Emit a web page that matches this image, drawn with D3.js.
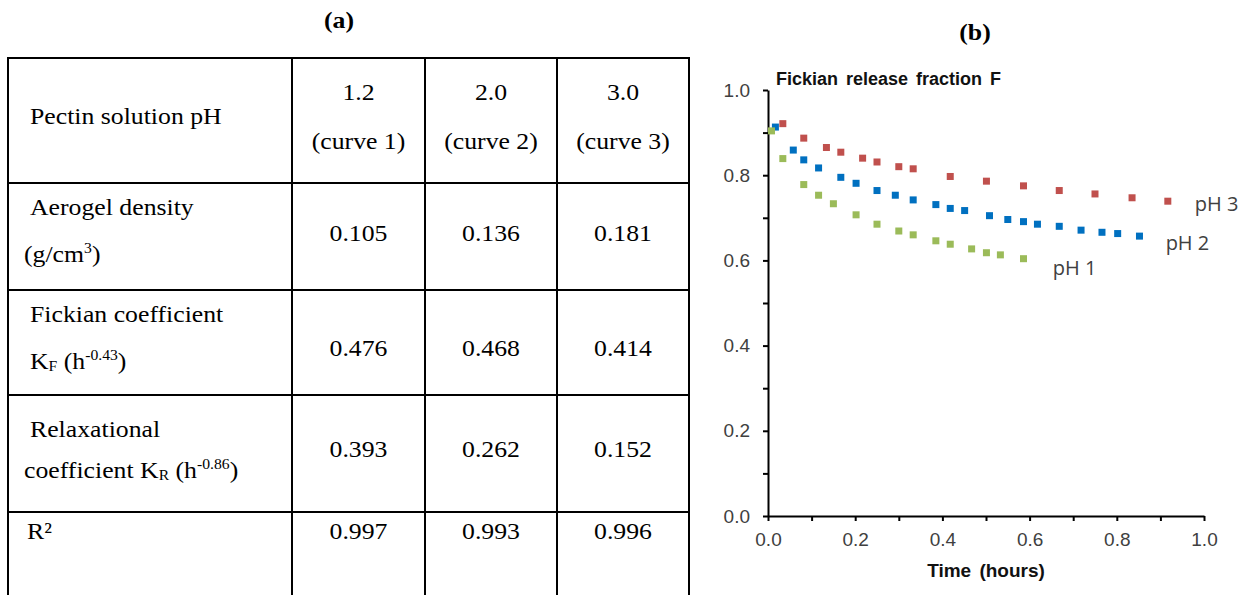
<!DOCTYPE html>
<html>
<head>
<meta charset="utf-8">
<style>
  body { margin: 0; background: #fff; }
  svg { display: block; }
</style>
</head>
<body>
<svg width="1246" height="595"></svg>
<script src="https://d3js.org/d3.v7.min.js"></script>
<script>

// ---- table (a) ----
var colHeads = [["1.2", "(curve 1)"], ["2.0", "(curve 2)"], ["3.0", "(curve 3)"]];
var aerogelDensity = ["0.105", "0.136", "0.181"];
var fickianK = ["0.476", "0.468", "0.414"];
var relaxK = ["0.393", "0.262", "0.152"];
var rSquared = ["0.997", "0.993", "0.996"];

// ---- plot (b) ----
var timePH1 = [0.008, 0.034, 0.082, 0.116, 0.150, 0.202, 0.250, 0.300, 0.333, 0.385, 0.418, 0.467, 0.501, 0.533, 0.586];
var fracPH1 = [0.904, 0.839, 0.778, 0.753, 0.733, 0.707, 0.685, 0.669, 0.660, 0.646, 0.638, 0.627, 0.618, 0.613, 0.604];

var timePH2 = [0.017, 0.058, 0.082, 0.116, 0.167, 0.202, 0.250, 0.292, 0.333, 0.385, 0.418, 0.451, 0.508, 0.550, 0.586, 0.618, 0.668, 0.718, 0.766, 0.802, 0.852];
var fracPH2 = [0.913, 0.859, 0.836, 0.817, 0.795, 0.781, 0.764, 0.753, 0.742, 0.731, 0.722, 0.717, 0.705, 0.696, 0.691, 0.685, 0.680, 0.671, 0.666, 0.663, 0.657];

var timePH3 = [0.034, 0.082, 0.134, 0.167, 0.217, 0.250, 0.300, 0.333, 0.418, 0.501, 0.586, 0.668, 0.750, 0.835, 0.917];
var fracPH3 = [0.921, 0.887, 0.865, 0.854, 0.840, 0.831, 0.820, 0.815, 0.797, 0.786, 0.775, 0.764, 0.756, 0.747, 0.739];

var seriesNames = ["pH 3", "pH 2", "pH 1"];
var seriesColors = ["#C0504D", "#0070C0", "#9BBB59"];
var labelPos = [[0.979, 0.717], [0.912, 0.624], [0.653, 0.566]];

var svg = d3.select("svg");

// ================= table =================
var colX = [8, 292, 425, 557, 689];
var rowY = [58, 183, 290, 395, 512, 640];
var serif = "'Liberation Serif', 'Times New Roman', serif";
var sx = 1.12;

var tg = svg.append("g").attr("font-family", serif).attr("font-size", 23).attr("fill", "#000");

svg.append("text")
    .attr("font-family", serif).attr("font-weight", "bold").attr("font-size", 23)
    .attr("text-anchor", "middle")
    .attr("transform", "translate(339,28) scale(" + sx + ",1)")
    .text("(a)");

// grid lines
var lines = svg.append("g").attr("stroke", "#000").attr("stroke-width", 2);
rowY.slice(0, 5).forEach(function(y) {
  lines.append("line").attr("x1", colX[0] - 1).attr("x2", colX[4] + 1).attr("y1", y).attr("y2", y);
});
colX.forEach(function(x) {
  lines.append("line").attr("x1", x).attr("x2", x).attr("y1", rowY[0]).attr("y2", 595);
});

function cellText(x, y, anchor) {
  return tg.append("text")
      .attr("text-anchor", anchor || "start")
      .attr("transform", "translate(" + x + "," + y + ") scale(" + sx + ",1)");
}

// row labels
cellText(30, 124).text("Pectin solution pH");
cellText(30, 215).text("Aerogel density");
var t = cellText(24, 262);
t.append("tspan").text("(g/cm");
t.append("tspan").attr("font-size", 14).attr("dy", -9).text("3");
t.append("tspan").attr("dy", 9).text(")");

cellText(30, 322).text("Fickian coefficient");
t = cellText(30, 369);
t.append("tspan").text("K");
t.append("tspan").attr("font-size", 14).attr("dy", 2).text("F");
t.append("tspan").attr("dy", -2).text(" (h");
t.append("tspan").attr("font-size", 14).attr("dy", -9).text("-0.43");
t.append("tspan").attr("dy", 9).text(")");

cellText(30, 437).text("Relaxational");
t = cellText(24, 478);
t.append("tspan").text("coefficient K");
t.append("tspan").attr("font-size", 14).attr("dy", 2).text("R");
t.append("tspan").attr("dy", -2).text(" (h");
t.append("tspan").attr("font-size", 14).attr("dy", -9).text("-0.86");
t.append("tspan").attr("dy", 9).text(")");

cellText(27, 539).text("R²");

// value columns
var colCenter = d3.range(3).map(function(i) { return (colX[i + 1] + colX[i + 2]) / 2; });
colHeads.forEach(function(h, i) {
  cellText(colCenter[i], 100, "middle").text(h[0]);
  cellText(colCenter[i], 149, "middle").text(h[1]);
});
[[aerogelDensity, 241], [fickianK, 356], [relaxK, 457], [rSquared, 539]].forEach(function(r) {
  r[0].forEach(function(v, i) { cellText(colCenter[i], r[1], "middle").text(v); });
});

// ================= chart =================
var x = d3.scaleLinear().domain([0, 1]).range([768, 1204]);
var y = d3.scaleLinear().domain([0, 1]).range([516, 90]);
var sans = "'Liberation Sans', Arial, sans-serif";
var tickVals = d3.range(0, 11).map(function(i) { return i / 10; });
var fmt = function(d, i) { return i % 2 === 0 ? d3.format(".1f")(d) : ""; };

svg.append("text")
    .attr("font-family", serif).attr("font-weight", "bold").attr("font-size", 23)
    .attr("text-anchor", "middle")
    .attr("transform", "translate(975,40) scale(" + sx + ",1)")
    .text("(b)");

var gx = svg.append("g")
    .attr("transform", "translate(0," + y(0) + ")")
    .call(d3.axisBottom(x).tickValues(tickVals).tickFormat(fmt).tickSize(5).tickSizeOuter(0).tickPadding(12));
var gy = svg.append("g")
    .attr("transform", "translate(" + x(0) + ",0)")
    .call(d3.axisLeft(y).tickValues(tickVals).tickFormat(fmt).tickSize(5).tickSizeOuter(0).tickPadding(13));

[gx, gy].forEach(function(g) {
  g.select(".domain").attr("stroke", "#000").attr("stroke-width", 2);
  g.selectAll(".tick line").attr("stroke", "#000").attr("stroke-width", 2);
  g.selectAll(".tick text")
      .attr("font-family", sans).attr("font-size", 19).attr("fill", "#404040");
});

svg.append("text")
    .attr("x", 776).attr("y", 85)
    .attr("font-family", sans).attr("font-weight", "bold").attr("font-size", 18)
    .attr("word-spacing", 3).attr("fill", "#111")
    .text("Fickian release fraction F");

svg.append("text")
    .attr("x", (x(0) + x(1)) / 2).attr("y", 577)
    .attr("text-anchor", "middle")
    .attr("font-family", sans).attr("font-weight", "bold").attr("font-size", 19)
    .attr("word-spacing", 3).attr("fill", "#111")
    .text("Time (hours)");

var series = [
  { t: timePH3, f: fracPH3 },
  { t: timePH2, f: fracPH2 },
  { t: timePH1, f: fracPH1 }
];
var m = 7;

series.forEach(function(s, k) {
  svg.append("g")
      .attr("fill", seriesColors[k])
    .selectAll("rect")
    .data(d3.zip(s.t, s.f))
    .enter().append("rect")
      .attr("x", function(d) { return x(d[0]) - m / 2; })
      .attr("y", function(d) { return y(d[1]) - m / 2; })
      .attr("width", m)
      .attr("height", m);

  svg.append("text")
      .attr("x", x(labelPos[k][0]))
      .attr("y", y(labelPos[k][1]))
      .attr("font-family", "'Open Sans', sans-serif")
      .attr("font-size", 20)
      .attr("fill", "#404040")
      .text(seriesNames[k]);
});

</script>
</body>
</html>
